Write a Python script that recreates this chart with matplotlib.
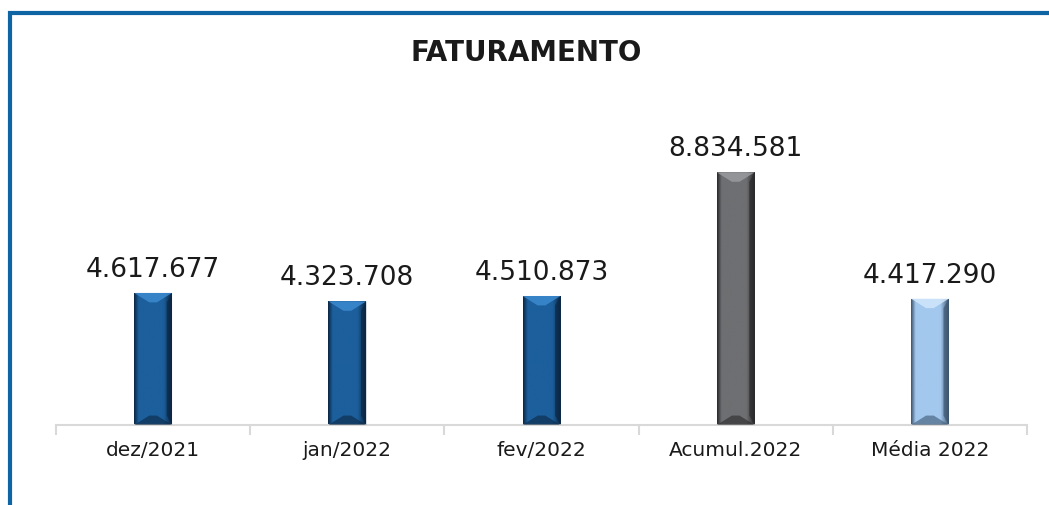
import numpy as np
import matplotlib.pyplot as plt
from matplotlib.lines import Line2D
from matplotlib.patches import Polygon
from matplotlib.colors import LinearSegmentedColormap

categorias = ["dez/2021", "jan/2022", "fev/2022", "Acumul.2022", "Média 2022"]
valores = [4617677, 4323708, 4510873, 8834581, 4417290]
rotulos = ["4.617.677", "4.323.708", "4.510.873", "8.834.581", "4.417.290"]
cores = ["#1c5f9c", "#1c5f9c", "#1c5f9c", "#6e6f72", "#a3c8ee"]
escuras = ["#0b2744", "#0b2744", "#0b2744", "#2a2a2c", "#3d5670"]
claras = ["#3d8ad0", "#3d8ad0", "#3d8ad0", "#9a9b9e", "#d2e7fb"]

fig = plt.figure(figsize=(10.49, 5.06), dpi=100)
ax = fig.add_axes([56 / 1049, 1 - 426 / 506, (1027 - 56) / 1049, 286 / 506])

x = np.arange(len(categorias))
bars = ax.bar(x, valores, width=0.195, color=cores, zorder=2)

# gradient + bevel on each bar
for b, c, d, l in zip(bars, cores, escuras, claras):
    x0, w, h = b.get_x(), b.get_width(), b.get_height()
    grad = np.linspace(0, 1, 100)
    cmap = LinearSegmentedColormap.from_list("g", [(0, d), (0.12, c), (0.5, c), (0.78, c), (1, d)])
    im = ax.imshow(grad[None, :], cmap=cmap, aspect="auto",
                   extent=[x0, x0 + w, 0, h], zorder=2)
    im.set_clip_path(b)
    bev = 330000
    dx = w * 0.4
    ax.add_patch(Polygon([[x0, h], [x0 + w, h], [x0 + w - dx, h - bev], [x0 + dx, h - bev]],
                         closed=True, color=l, alpha=0.85, zorder=3, lw=0))
    ax.add_patch(Polygon([[x0, 0], [x0 + w, 0], [x0 + w - dx, bev], [x0 + dx, bev]],
                         closed=True, color=d, alpha=0.6, zorder=3, lw=0))
    ax.add_patch(Polygon([[x0 + w, 0], [x0 + w, h], [x0 + w - dx * 0.35, h - bev], [x0 + w - dx * 0.35, bev]],
                         closed=True, color=d, alpha=0.7, zorder=3, lw=0))

for xi, v, r in zip(x, valores, rotulos):
    ax.text(xi, v + 380000, r, ha="center", va="bottom", fontsize=19,
            color="#1a1a1a")

ax.set_xlim(-0.5, 4.5)
ax.set_ylim(0, 1e7)
ax.set_xticks(x)
ax.set_xticklabels(categorias, fontsize=14.5, color="#1a1a1a")
ax.set_xticks(np.arange(-0.5, 5, 1), minor=True)
ax.tick_params(axis="x", which="major", length=0, pad=11)
ax.tick_params(axis="x", which="minor", length=7, color="#d9d9d9", width=1.5)
ax.set_yticks([])
for s in ["top", "right", "left"]:
    ax.spines[s].set_visible(False)
ax.spines["bottom"].set_color("#d9d9d9")
ax.spines["bottom"].set_linewidth(1.5)

fig.text(526 / 1049, 1 - 53 / 506, "FATURAMENTO",
         ha="center", va="center", fontsize=20, fontweight="bold", color="#1a1a1a")

# blue frame (top and left)
fig.add_artist(Line2D([8 / 1049, 1], [1 - 13.5 / 506] * 2, color="#0f65a3", lw=3,
                      solid_capstyle="butt"))
fig.add_artist(Line2D([9.5 / 1049] * 2, [0, 1 - 12 / 506], color="#0f65a3", lw=3,
                      solid_capstyle="butt"))

fig.savefig("out.png", dpi=100)
